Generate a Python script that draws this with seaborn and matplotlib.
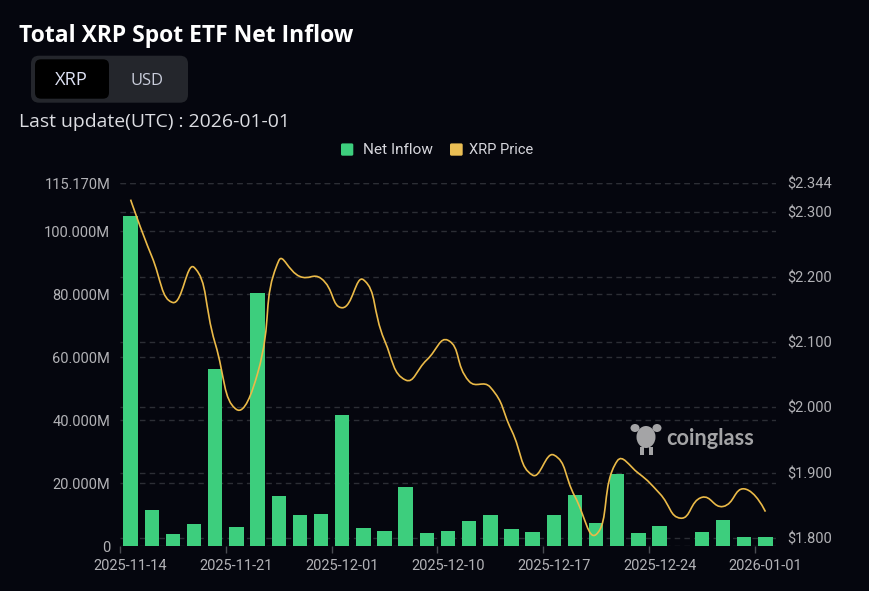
import numpy as np
import pandas as pd
import matplotlib
matplotlib.use("Agg")
import matplotlib.pyplot as plt
import seaborn as sns
from matplotlib.path import Path
from matplotlib.patches import PathPatch, FancyBboxPatch, Ellipse, Rectangle
from matplotlib.lines import Line2D
from matplotlib.transforms import blended_transform_factory, IdentityTransform

# ---------------- data ----------------
dates = ['2025-11-14', '2025-11-17', '2025-11-18', '2025-11-19', '2025-11-20',
         '2025-11-21', '2025-11-24', '2025-11-25', '2025-11-26', '2025-11-28',
         '2025-12-01', '2025-12-02', '2025-12-03', '2025-12-04', '2025-12-05',
         '2025-12-10', '2025-12-11', '2025-12-12', '2025-12-15', '2025-12-16',
         '2025-12-17', '2025-12-18', '2025-12-19', '2025-12-22', '2025-12-23',
         '2025-12-24', '2025-12-26', '2025-12-29', '2025-12-30', '2025-12-31',
         '2026-01-01']
net_inflow_m = [104.7, 11.45, 3.8, 7.1, 56.1, 5.9, 80.2, 15.9, 9.9, 10.3,
                41.7, 5.7, 4.9, 18.7, 4.2, 4.8, 8.0, 9.9, 5.4, 4.5,
                9.8, 16.2, 7.2, 22.9, 4.2, 6.3, 0.0, 4.5, 8.4, 2.9, 2.9]
xrp_price = [2.319, 2.232, 2.161, 2.215, 2.098, 1.997, 2.052, 2.225, 2.201, 2.198,
             2.153, 2.196, 2.103, 2.042, 2.073, 2.103, 2.040, 2.031, 1.965, 1.896,
             1.927, 1.863, 1.805, 1.918, 1.899, 1.868, 1.830, 1.862, 1.848, 1.875,
             1.840]
x_tick_labels = ['2025-11-14', '2025-11-21', '2025-12-01', '2025-12-10',
                 '2025-12-17', '2025-12-24', '2026-01-01']
left_ticks = [0, 20, 40, 60, 80, 100, 115.17]
right_ticks = [1.8, 1.9, 2.0, 2.1, 2.2, 2.3, 2.344]
price_min = 1.7873

# ---------------- style ----------------
W, H = 870, 591
BG = '#05060e'
GREEN = '#3dce7d'
YELLOW = '#ebba48'
GRID = '#2c2e35'
TICK = '#b2b2b6'

sns.set_theme(style='dark', rc={'figure.facecolor': BG, 'axes.facecolor': BG,
                                'savefig.facecolor': BG})
plt.rcParams['font.family'] = ['Roboto', 'DejaVu Sans']

fig = plt.figure(figsize=(W / 100, H / 100), dpi=100)


def fx(x):
    return x / W


def fy(y):
    return 1 - y / H


ax = fig.add_axes([fx(120), fy(546), (776 - 120) / W, (546 - 183.3) / H])
df = pd.DataFrame({'date': dates, 'inflow': net_inflow_m})
sns.barplot(data=df, x='date', y='inflow', color=GREEN, saturation=1,
            width=0.68, ax=ax, linewidth=0, zorder=3)
ax.set_xlim(-0.5, len(dates) - 0.5)
ax.set_ylim(0, left_ticks[-1])
ax.set_xlabel('')
ax.set_ylabel('')
for s in ax.spines.values():
    s.set_visible(False)

pos = [dates.index(d) for d in x_tick_labels]
ax.set_xticks(pos)
ax.set_xticklabels(x_tick_labels)
ax.set_xticks([p - 0.5 for p in pos], minor=True)
ax.tick_params(axis='x', which='major', length=0, pad=9, labelsize=10.5,
               labelcolor=TICK)
ax.tick_params(axis='x', which='minor', length=5, width=1, color='#4a4c52',
               bottom=True)
ax.set_yticks(left_ticks)
ax.set_yticklabels(['0' if v == 0 else f'{v:.3f}M' for v in left_ticks])
ax.tick_params(axis='y', length=0, pad=7, labelsize=10.5, labelcolor=TICK)
ax.set_axisbelow(True)
ax.yaxis.grid(True, color=GRID, linestyle=(0, (4, 3)), linewidth=1)
ax.xaxis.grid(False)

ax2 = ax.twinx()
ax2.set_ylim(price_min, right_ticks[-1])
ax2.set_yticks(right_ticks)
ax2.set_yticklabels([f'${v:.3f}' for v in right_ticks])
ax2.tick_params(axis='y', length=0, pad=8, labelsize=10.5, labelcolor=TICK)
ax2.grid(False)
for s in ax2.spines.values():
    s.set_visible(False)

# right-axis grid lines, drawn beneath the bars
blend = blended_transform_factory(ax.transAxes, ax2.transData)
for p in right_ticks:
    ax.add_line(Line2D([0, 1], [p, p], transform=blend, color=GRID,
                       linestyle=(0, (4, 3)), linewidth=1, zorder=0.5))

# smooth price line (ECharts-like bezier smoothing, computed in pixel space)
x0 = ax2.transData.transform([[0, 0]])[0]
x1 = ax2.transData.transform([[1, 1]])[0]
sx, sy = x1[0] - x0[0], x1[1] - x0[1]
X = np.arange(len(xrp_price)) * sx
Y = np.array(xrp_price) * sy
n = len(X)
smooth = 0.5
cp_in = [(X[i], Y[i]) for i in range(n)]
cp_out = [(X[i], Y[i]) for i in range(n)]
for i in range(1, n - 1):
    vx, vy = X[i + 1] - X[i - 1], Y[i + 1] - Y[i - 1]
    l0 = np.hypot(X[i] - X[i - 1], Y[i] - Y[i - 1])
    l1 = np.hypot(X[i + 1] - X[i], Y[i + 1] - Y[i])
    r = l1 / (l0 + l1)
    cp_in[i] = (X[i] - vx * smooth * (1 - r), Y[i] - vy * smooth * (1 - r))
    cp_out[i] = (X[i] + vx * smooth * r, Y[i] + vy * smooth * r)
verts = [(X[0], Y[0])]
codes = [Path.MOVETO]
for i in range(n - 1):
    verts += [cp_out[i], cp_in[i + 1], (X[i + 1], Y[i + 1])]
    codes += [Path.CURVE4] * 3
verts = [(vx_ / sx, vy_ / sy) for vx_, vy_ in verts]
ax2.add_patch(PathPatch(Path(verts, codes), facecolor='none', edgecolor=YELLOW,
                        linewidth=1.2, transform=ax2.transData, zorder=4))

# ---------------- header ----------------
renderer = fig.canvas.get_renderer()


def fit(t, target):
    w = t.get_window_extent(renderer).width
    t.set_fontsize(t.get_fontsize() * target / w)


t = fig.text(fx(19.5), fy(41.7), 'Total XRP Spot ETF Net Inflow', color='white',
             fontsize=16, fontweight='bold', family=['Open Sans', 'DejaVu Sans'],
             ha='left', va='baseline')
fit(t, 335)

ident = IdentityTransform()
fig.add_artist(FancyBboxPatch((31, H - 102.7), 157, 47,
                              boxstyle='round,pad=0,rounding_size=8',
                              facecolor='#24262c', edgecolor='none',
                              transform=ident))
fig.add_artist(FancyBboxPatch((35, H - 98.7), 74, 39.4,
                              boxstyle='round,pad=0,rounding_size=6',
                              facecolor='#000000', edgecolor='none',
                              transform=ident))
t = fig.text(fx(71.7), fy(85), 'XRP', color='#dde1f3', fontsize=12,
             family=['Open Sans', 'DejaVu Sans'], ha='center', va='baseline')
fit(t, 33)
t = fig.text(fx(147.3), fy(85), 'USD', color='#c9cddb', fontsize=12,
             family=['Open Sans', 'DejaVu Sans'], ha='center', va='baseline')
fit(t, 33)

t = fig.text(fx(19.3), fy(126.7), 'Last update(UTC) : 2026-01-01', color='#dcdde2',
             fontsize=13, family=['Open Sans', 'DejaVu Sans'], ha='left',
             va='baseline')
fit(t, 269)

# legend
fig.add_artist(FancyBboxPatch((341, H - 155.7), 12.3, 12.3,
                              boxstyle='round,pad=0,rounding_size=1.5',
                              facecolor=GREEN, edgecolor='none', transform=ident))
fig.add_artist(FancyBboxPatch((450, H - 155.7), 12.7, 12.3,
                              boxstyle='round,pad=0,rounding_size=1.5',
                              facecolor='#eabe54', edgecolor='none', transform=ident))
t = fig.text(fx(363.3), fy(154.3), 'Net Inflow', color='#d6d6dc', fontsize=10,
             ha='left', va='baseline')
fit(t, 70)
t = fig.text(fx(469.3), fy(154.3), 'XRP Price', color='#d6d6dc', fontsize=10,
             ha='left', va='baseline')
fit(t, 64)

# watermark
WM = '#a4a4a6'
fig.add_artist(Ellipse((646, H - 437), 19, 22, facecolor=WM, edgecolor='none',
                       transform=ident, zorder=5))
fig.add_artist(Ellipse((635, H - 428), 9, 8, facecolor=WM, edgecolor='none',
                       transform=ident, zorder=5))
fig.add_artist(Ellipse((657, H - 428), 9, 8, facecolor=WM, edgecolor='none',
                       transform=ident, zorder=5))
fig.add_artist(Rectangle((640, H - 455), 4, 8, facecolor=WM, edgecolor='none',
                         transform=ident, zorder=5))
fig.add_artist(Rectangle((649, H - 455), 4, 8, facecolor=WM, edgecolor='none',
                         transform=ident, zorder=5))
t = fig.text(fx(666.7), fy(445), 'coinglass', color=WM, fontsize=14,
             fontweight='bold', family=['Lato', 'DejaVu Sans'], ha='left',
             va='baseline', zorder=5)
fit(t, 88)

fig.savefig('out.png', dpi=100, facecolor=BG)
